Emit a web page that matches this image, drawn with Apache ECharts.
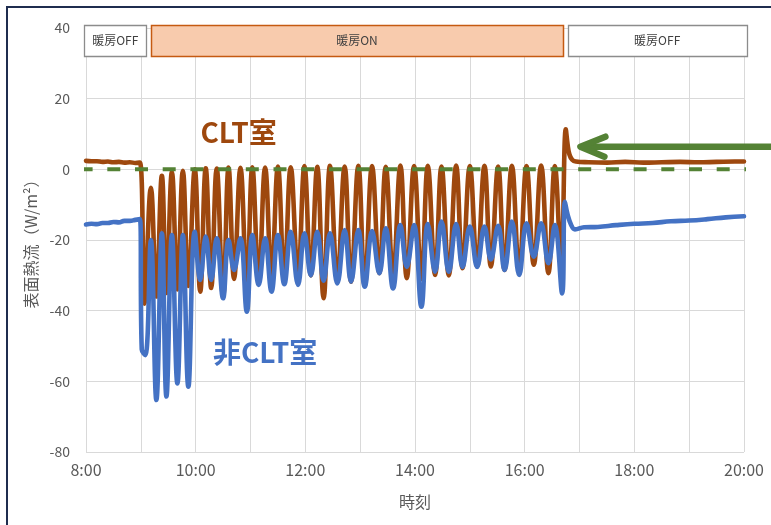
<!DOCTYPE html>
<html>
<head>
<meta charset="utf-8">
<script src="https://cdn.jsdelivr.net/npm/echarts@6/dist/echarts.min.js"></script>
<style>
  html, body { margin: 0; padding: 0; background: #ffffff; }
  #chart { width: 771px; height: 525px; }
</style>
</head>
<body>
<div id="chart"></div>
<script>
// Surface heat flux (W/m²) measured in the CLT room and the non-CLT room
const cltTime = [
  '8:00','8:06','8:12','8:18','8:24','8:30','8:36','8:42','8:48','8:54','8:59',
  '9:04','9:11','9:17','9:23','9:28','9:34','9:40','9:46','9:52','9:59',
  '10:05','10:11','10:17','10:23','10:30','10:36','10:42','10:49','10:56',
  '11:02','11:09','11:16','11:23','11:30','11:37','11:44','11:52','11:59',
  '12:06','12:13','12:20','12:27','12:35','12:43','12:50','12:58',
  '13:05','13:13','13:21','13:28','13:36','13:44','13:51','13:59',
  '14:07','14:14','14:22','14:29','14:37','14:45','14:52',
  '15:00','15:08','15:16','15:23','15:31','15:38','15:46','15:54',
  '16:02','16:10','16:18','16:26','16:33','16:40','16:45','16:47','16:49','16:52','16:56',
  '17:10','17:30','17:50','18:10','18:30','18:50','19:10','19:30','19:50','20:00'
];
const cltFlux = [
  2.4, 2.3, 2.3, 2.1, 2.2, 2.0, 2.1, 1.9, 2.0, 1.8, 1.9,
  -38, -5.2, -36, -1.8, -35, -0.8, -34, -0.4, -33, 0.0,
  -34.6, 0.3, -33.6, 0.2, -36, 0.5, -31, 0.4, -33,
  0.6, -31, 0.5, -30, 0.8, -31, 0.6, -30, 0.9,
  -30, 0.7, -36.5, 1.0, -31.3, 0.8, -31.8, 1.0,
  -33, 0.9, -29.4, 0.7, -30, 1.1, -30.8, 0.9,
  -31, 1.0, -29.9, 0.8, -30, 1.1, -28,
  0.9, -27.5, 1.0, -27.5, 0.8, -28.5, 1.0, -29,
  0.9, -27, 1.1, -29.4, 0.9, -27, 11.3, 7.0, 4.2, 2.7, 2.2,
  2.0, 1.9, 2.1, 1.9, 2.0, 2.1, 2.0, 2.1, 2.2, 2.2
];

const nonCltTime = [
  '8:00','8:06','8:12','8:18','8:24','8:30','8:36','8:42','8:48','8:54','8:59',
  '9:01','9:05','9:11','9:17','9:23','9:28','9:34','9:40','9:46','9:52','9:59',
  '10:05','10:11','10:17','10:23','10:30','10:36','10:42','10:49','10:56',
  '11:02','11:09','11:16','11:23','11:30','11:37','11:44','11:52','11:59',
  '12:06','12:13','12:20','12:27','12:35','12:43','12:50','12:58',
  '13:05','13:13','13:21','13:28','13:36','13:44','13:51','13:59',
  '14:07','14:14','14:22','14:29','14:37','14:45','14:52',
  '15:00','15:08','15:16','15:23','15:31','15:38','15:46','15:54',
  '16:02','16:10','16:18','16:26','16:33','16:41','16:44','16:47','16:51','16:55',
  '17:05','17:20','17:40','18:00','18:20','18:40','19:00','19:20','19:40','20:00'
];
const nonCltFlux = [
  -15.6, -15.4, -15.5, -15.2, -15.2, -14.9, -15.0, -14.6, -14.6, -14.3, -14.1,
  -51, -52.6, -20, -65.3, -18.1, -64.3, -18.6, -60.6, -18.6, -61.5, -17.7,
  -31.3, -19, -31.3, -19.5, -36.5, -20, -28.5, -19.5, -40.3,
  -18.6, -32.7, -19.5, -34.6, -18.6, -32.5, -17.7, -32.7, -18.1,
  -30, -17.7, -31.5, -18.1, -32.3, -17.2, -31.8, -17.2,
  -33.2, -17.5, -29.4, -16.7, -33.7, -15.8, -27.6, -15.8,
  -38.9, -15.5, -29, -14.8, -29, -15.5, -27.6,
  -16.2, -27.6, -16.2, -25.5, -16.0, -28.5, -14.8, -29.9,
  -15.3, -24.7, -15.3, -26.6, -15.8, -35.1, -9.2, -12.8, -15.8, -17.0,
  -16.4, -16.3, -15.8, -15.4, -15.2, -14.7, -14.5, -14.1, -13.6, -13.3
];

// zero reference line span
const zeroLineTime = ['7:53', '20:05'];
const zeroLineFlux = [0, 0];

// heating schedule bands along the top
const phaseLabel = ['暖房OFF', '暖房ON', '暖房OFF'];
const phaseStart = ['7:58', '9:11', '16:47'];
const phaseEnd = ['9:06', '16:42', '20:03'];
const phaseTop = 40.8;
const phaseBottom = 31.9;

// room labels and the arrow pointing at the spike after heating stops
const roomLabel = ['CLT室', '非CLT室'];
const roomLabelAt = [['10:47', 10.6], ['11:16', -51.7]];
const arrowTip = ['17:01', 6.4];

const toHour = s => { const [h, m] = s.split(':').map(Number); return h + m / 60; };
const pairs = (ts, vs) => ts.map((t, i) => [toHour(t), vs[i]]);

const FONT = '"Noto Sans CJK JP", "Noto Sans", sans-serif';
const BROWN = '#9E480E';
const BLUE = '#4472C4';
const GREEN = '#548235';

const chart = echarts.init(document.getElementById('chart'), null, { renderer: 'canvas' });

chart.setOption({
  animation: false,
  backgroundColor: '#ffffff',
  grid: { left: 86, right: 27, top: 28, bottom: 73 },
  xAxis: {
    type: 'value', min: 8, max: 20, interval: 1,
    name: '時刻', nameLocation: 'middle', nameGap: 42,
    nameTextStyle: { fontFamily: FONT, fontSize: 16, color: '#595959' },
    axisLine: { show: false }, axisTick: { show: false },
    axisLabel: {
      margin: 10, fontFamily: FONT, fontSize: 16, color: '#595959',
      formatter: v => (v % 2 === 0 ? v + ':00' : '')
    },
    splitLine: { show: true, lineStyle: { color: '#D9D9D9', width: 1 } }
  },
  yAxis: {
    type: 'value', min: -80, max: 40, interval: 20,
    name: '表面熱流（W/m²）', nameLocation: 'middle', nameGap: 44, nameRotate: 90,
    nameTextStyle: { fontFamily: FONT, fontSize: 16, color: '#595959' },
    axisLine: { show: false }, axisTick: { show: false },
    axisLabel: { margin: 16, fontFamily: FONT, fontSize: 14, color: '#595959' },
    splitLine: { show: true, lineStyle: { color: '#D9D9D9', width: 1 } }
  },
  series: [
    {
      name: 'CLT室', type: 'line', data: pairs(cltTime, cltFlux),
      showSymbol: false, smooth: 0.42, z: 2,
      lineStyle: { color: BROWN, width: 4.6, join: 'round', cap: 'round' }
    },
    {
      name: '非CLT室', type: 'line', data: pairs(nonCltTime, nonCltFlux),
      showSymbol: false, smooth: 0.42, z: 3,
      lineStyle: { color: BLUE, width: 4.6, join: 'round', cap: 'round' }
    },
    {
      name: 'zero', type: 'line', data: pairs(zeroLineTime, zeroLineFlux),
      showSymbol: false, clip: false, z: 4, silent: true,
      lineStyle: { color: GREEN, width: 4, type: [13, 14.7] }
    }
  ]
});

const px = (t, v) => chart.convertToPixel({ gridIndex: 0 }, [toHour(t), v]);

const graphics = [];

// outer frame
graphics.push({
  type: 'rect', z: 100, silent: true,
  shape: { x: 7, y: 7, width: 820, height: 600 },
  style: { fill: null, stroke: '#1F2D4F', lineWidth: 2 }
});

// heating schedule bands
phaseLabel.forEach((label, i) => {
  const a = px(phaseStart[i], phaseTop);
  const b = px(phaseEnd[i], phaseBottom);
  const on = label === '暖房ON';
  graphics.push({
    type: 'rect', z: 50, silent: true,
    shape: { x: Math.round(a[0]) + 0.5, y: Math.round(a[1]) + 0.5, width: Math.round(b[0] - a[0]), height: Math.round(b[1] - a[1]) },
    style: { fill: on ? '#F8CBAD' : '#ffffff', stroke: on ? '#C55A11' : '#8C8C8C', lineWidth: on ? 1.5 : 1.3 }
  });
  graphics.push({
    type: 'text', z: 51, silent: true,
    x: (a[0] + b[0]) / 2, y: (a[1] + b[1]) / 2,
    style: { text: label, fill: '#404040', font: '12px ' + FONT, align: 'center', verticalAlign: 'middle' }
  });
});

// room labels
roomLabel.forEach((label, i) => {
  const p = px(roomLabelAt[i][0], roomLabelAt[i][1]);
  graphics.push({
    type: 'text', z: 60, silent: true, x: p[0], y: p[1],
    style: { text: label, fill: i === 0 ? BROWN : BLUE, font: 'bold 28px ' + FONT, align: 'center', verticalAlign: 'middle' }
  });
});

// arrow
const tip = px(arrowTip[0], arrowTip[1]);
graphics.push({
  type: 'line', z: 60, silent: true,
  shape: { x1: tip[0] + 3, y1: tip[1], x2: 790, y2: tip[1] },
  style: { stroke: GREEN, lineWidth: 6.5 }
});
graphics.push({
  type: 'polyline', z: 60, silent: true,
  shape: { points: [[tip[0] + 25, tip[1] - 10], [tip[0], tip[1]], [tip[0] + 24, tip[1] + 10]] },
  style: { stroke: GREEN, lineWidth: 6.5, lineCap: 'round', lineJoin: 'round', fill: null }
});

chart.setOption({ graphic: graphics });
</script>
</body>
</html>
